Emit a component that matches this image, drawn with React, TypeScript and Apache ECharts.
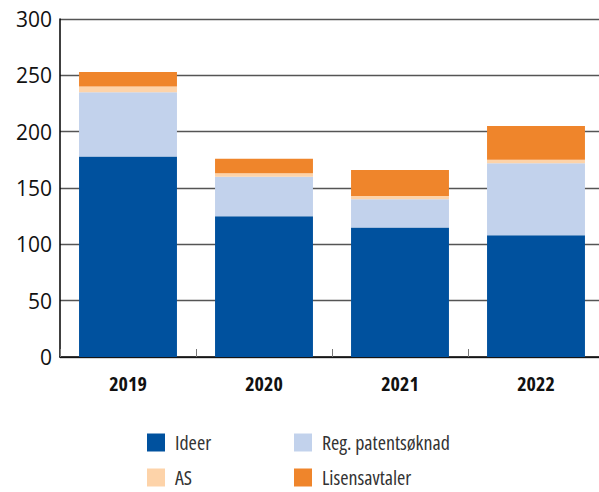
import React, { useEffect, useRef } from "react";
import * as echarts from "echarts";

const categories = ["2019", "2020", "2021", "2022"];
const ideer = [178, 125, 115, 108];
const regPatent = [57, 35, 25, 64];
const asData = [5, 3, 3, 3];
const lisens = [13, 13, 23, 30];
const yTicks = [0, 50, 100, 150, 200, 250, 300];
const seriesNames = ["Ideer", "Reg. patentsøknad", "AS", "Lisensavtaler"];
const seriesColors = ["#00519e", "#c2d2ec", "#fdd3a9", "#ef852b"];

const COND = "Open Sans;font-stretch:condensed";

export default function App() {
  const ref = useRef<HTMLDivElement>(null);
  useEffect(() => {
    if (!ref.current) return;
    const chart = echarts.init(ref.current, null, { renderer: "svg" });
    const values = [ideer, regPatent, asData, lisens];
    const legendPos = [
      { left: 147, top: 432 },
      { left: 294, top: 432 },
      { left: 147, top: 467 },
      { left: 294, top: 467 },
    ];
    chart.setOption({
      animation: false,
      grid: { left: 60, right: 6, top: 19, bottom: 135, containLabel: false },
      xAxis: {
        type: "category",
        data: categories,
        axisLine: { show: true, lineStyle: { color: "#000", width: 1.5 } },
        axisTick: { show: true, inside: true, length: 8, lineStyle: { color: "#777", width: 1 } },
        axisLabel: {
          color: "#111",
          fontSize: 20,
          fontWeight: "bold",
          fontFamily: COND,
          margin: 21,
        },
      },
      yAxis: {
        type: "value",
        min: yTicks[0],
        max: yTicks[yTicks.length - 1],
        interval: 50,
        axisLine: { show: true, lineStyle: { color: "#000", width: 1.5 } },
        axisTick: { show: false },
        splitLine: { show: true, lineStyle: { color: "#555", width: 1.4 } },
        axisLabel: { color: "#111", fontSize: 21, margin: 8, fontFamily: "'Open Sans', sans-serif" },
      },
      legend: seriesNames.map((n, i) => ({
        data: [n],
        left: legendPos[i].left,
        top: legendPos[i].top,
        padding: 0,
        itemWidth: 18,
        itemHeight: 18,
        icon: "rect",
        selectedMode: false,
        textStyle: { fontSize: 20, color: "#333", fontFamily: COND, padding: [0, 0, 0, 5] },
      })),
      series: seriesNames.map((n, i) => ({
        name: n,
        type: "bar",
        stack: "total",
        data: values[i],
        barWidth: "72%",
        itemStyle: { color: seriesColors[i] },
        emphasis: { disabled: true },
      })),
    });
    return () => chart.dispose();
  }, []);
  return (
    <div
      style={{ position: "absolute", left: 0, top: 0, width: 599, height: 492, overflow: "hidden" }}
    >
      <div ref={ref} style={{ width: 610, height: 492 }} />
    </div>
  );
}
